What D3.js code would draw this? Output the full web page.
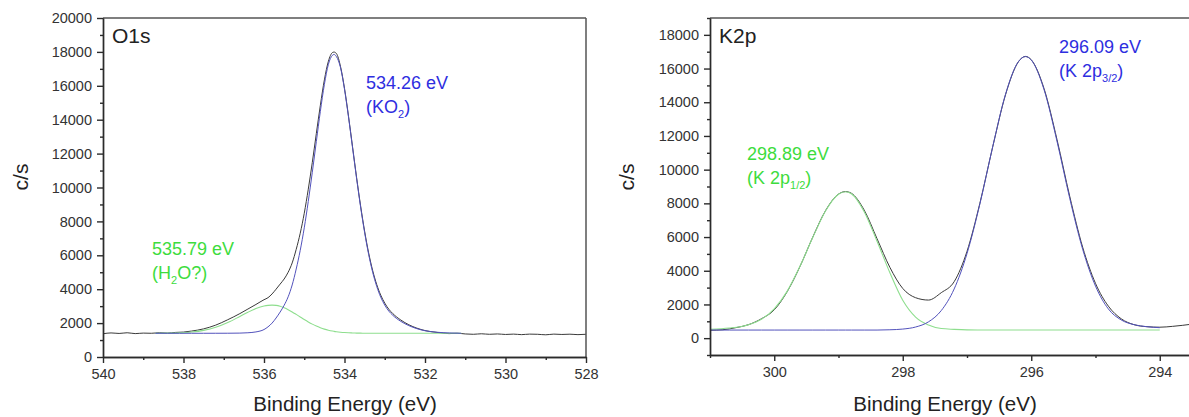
<!DOCTYPE html>
<html><head><meta charset="utf-8">
<script src="https://cdn.jsdelivr.net/npm/d3@7"></script>
<style>body{margin:0;background:#fff}svg{display:block}text{font-family:"Liberation Sans",Arial,sans-serif}</style>
</head><body><div id="chart"></div>
<script>
// ---------- O1s panel data ----------
const o1sRawEnergy = [540.0,539.8,539.6,539.4,539.2,539.0,538.8,538.6,538.4,538.2,538.0,537.8,537.5,537.2,536.9,536.6,536.4,536.2,536.0,535.9,535.8,535.7,535.6,535.5,535.4,535.3,535.2,535.1,535.0,534.9,534.8,534.7,534.6,534.5,534.4,534.3,534.26,534.2,534.1,534.0,533.9,533.8,533.7,533.6,533.5,533.4,533.3,533.2,533.1,533.0,532.9,532.8,532.6,532.4,532.2,532.0,531.8,531.6,531.4,531.2,531.0,530.8,530.6,530.4,530.2,530.0,529.8,529.6,529.4,529.2,529.0,528.8,528.6,528.4,528.2,528.0];
const o1sRaw = [1370,1420,1390,1430,1380,1410,1400,1430,1410,1450,1470,1530,1660,1880,2200,2560,2830,3100,3380,3500,3720,4000,4300,4600,5000,5550,6350,7300,8480,9900,11480,13180,14850,16350,17450,17960,17990,17900,17150,15850,14200,12400,10600,8920,7420,6140,5100,4280,3650,3180,2820,2560,2180,1900,1700,1560,1480,1420,1380,1400,1360,1340,1370,1340,1360,1330,1350,1320,1350,1340,1310,1350,1330,1345,1320,1340];
const o1sFitEnergy = [538.7,538.4,538.1,537.8,537.5,537.2,536.9,536.6,536.4,536.2,536.0,535.9,535.8,535.7,535.6,535.5,535.4,535.3,535.2,535.1,535.0,534.9,534.8,534.7,534.6,534.5,534.4,534.3,534.26,534.2,534.1,534.0,533.9,533.8,533.7,533.6,533.5,533.4,533.3,533.2,533.1,533.0,532.9,532.8,532.6,532.4,532.2,532.0,531.7,531.4,531.1];
const o1sKO2 = [1400,1400,1400,1400,1400,1401,1403,1410,1430,1480,1620,1780,2000,2300,2650,3050,3550,4250,5190,6290,7620,9180,10900,12710,14490,16080,17270,17800,17850,17720,17080,15790,14150,12340,10540,8850,7340,6050,5000,4170,3530,3060,2710,2460,2100,1850,1670,1550,1460,1420,1400];
const o1sH2O = [1402,1408,1426,1471,1569,1751,2034,2394,2641,2856,3004,3044,3060,3045,2993,2907,2794,2660,2513,2361,2211,2069,1939,1824,1727,1646,1581,1530,1513,1491,1463,1442,1428,1418,1411,1407,1404,1402,1401,1400,1400,1400,1400,1400,1400,1400,1400,1400,1400,1400,1400];
const o1sXMajor = [540,538,536,534,532,530,528];
const o1sXMinor = [539,537,535,533,531,529];
const o1sYMajor = [0,2000,4000,6000,8000,10000,12000,14000,16000,18000,20000];
const o1sYMinor = [1000,3000,5000,7000,9000,11000,13000,15000,17000,19000];

// ---------- K2p panel data ----------
const k2pRawEnergy = [301.0,300.8,300.6,300.4,300.2,300.0,299.8,299.6,299.4,299.2,299.0,298.89,298.8,298.6,298.4,298.2,298.0,297.8,297.6,297.4,297.2,297.0,296.8,296.6,296.4,296.2,296.09,296.0,295.8,295.6,295.4,295.2,295.0,294.8,294.6,294.4,294.2,294.0,293.8,293.5];
const k2pRaw = [470,500,620,800,1150,1680,2750,4250,6000,7580,8550,8700,8600,7600,5900,4200,2950,2400,2260,2700,3350,5150,8000,11350,14450,16400,16720,16520,14800,11800,8400,5400,3250,1900,1150,800,680,650,700,830];
const k2pFitEnergy = [301.0,300.7,300.4,300.2,300.0,299.8,299.6,299.4,299.2,299.0,298.89,298.8,298.6,298.4,298.2,298.0,297.8,297.6,297.4,297.2,297.0,296.8,296.6,296.4,296.2,296.09,296.0,295.8,295.6,295.4,295.2,295.0,294.8,294.6,294.4,294.2,294.0];
const k2p32 = [480,480,480,480,480,480,480,480,480,480,480,480,480,480,497,539,660,966,1639,2919,5020,7954,11359,14480,16411,16710,16509,14740,11698,8282,5279,3090,1735,1080,800,680,620];
const k2p12 = [530,600,800,1120,1740,2776,4261,5983,7562,8539,8690,8568,7508,5747,3884,2250,1250,780,570,522,491,483,480,480,480,480,480,480,480,480,480,480,480,480,480,480,480];
const k2pXMajor = [300,298,296,294];
const k2pXMinor = [301,299,297,295,293];
const k2pYMajor = [0,2000,4000,6000,8000,10000,12000,14000,16000,18000];
const k2pYMinor = [-1000,1000,3000,5000,7000,9000,11000,13000,15000,17000,19000];

const svg = d3.select("#chart").append("svg").attr("width",1189).attr("height",417);
const AX = "#2b2b2b", RAW = "#3a3a3a", BLUE_L = "#5252bc", GREEN_L = "#8ede8e";
const BLUE_T = "#2e2ee0", GREEN_T = "#3ddc3d";

function panel(o){
  const x = d3.scaleLinear().domain(o.xd).range([o.left,o.right]);
  const y = d3.scaleLinear().domain(o.yd).range([o.bottom,o.top]);
  const g = svg.append("g");
  const cid = "clip"+o.id;
  svg.append("clipPath").attr("id",cid).append("rect")
    .attr("x",o.left).attr("y",o.top).attr("width",o.right-o.left).attr("height",o.bottom-o.top);
  const line = (xs)=>d3.line().x((d,i)=>x(xs[i])).y(d=>y(d)).curve(d3.curveMonotoneX);
  const dg = g.append("g").attr("clip-path",`url(#${cid})`);
  dg.append("path").attr("d",line(o.rawE)(o.raw)).attr("fill","none").attr("stroke",RAW).attr("stroke-width",1);
  dg.append("path").attr("d",line(o.fitE)(o.green)).attr("fill","none").attr("stroke",GREEN_L).attr("stroke-width",1.1);
  dg.append("path").attr("d",line(o.fitE)(o.blue)).attr("fill","none").attr("stroke",BLUE_L).attr("stroke-width",1);

  g.append("line").attr("x1",o.left).attr("x2",o.right).attr("y1",o.top).attr("y2",o.top).attr("stroke","#555").attr("stroke-width",1.5);
  g.append("line").attr("x1",o.right).attr("x2",o.right).attr("y1",o.top).attr("y2",o.bottom).attr("stroke","#555").attr("stroke-width",1.5);

  const styleAxis = sel => { sel.selectAll("path,line").attr("stroke",AX).attr("stroke-width",1.4);
    sel.selectAll("text").attr("fill","#333").style("font-size","14.5px").style("font-family",'"Liberation Sans",Arial,sans-serif'); };
  g.append("g").attr("transform",`translate(0,${o.bottom})`)
    .call(d3.axisBottom(x).tickValues(o.xMinor).tickSize(3).tickSizeOuter(0).tickFormat("")).call(styleAxis);
  g.append("g").attr("transform",`translate(0,${o.bottom})`)
    .call(d3.axisBottom(x).tickValues(o.xMajor).tickSize(6).tickSizeOuter(0).tickPadding(6).tickFormat(d3.format("d"))).call(styleAxis);
  g.append("g").attr("transform",`translate(${o.left},0)`)
    .call(d3.axisLeft(y).tickValues(o.yMinor).tickSize(3).tickSizeOuter(0).tickFormat("")).call(styleAxis);
  g.append("g").attr("transform",`translate(${o.left},0)`)
    .call(d3.axisLeft(y).tickValues(o.yMajor).tickSize(6).tickSizeOuter(0).tickPadding(5).tickFormat(d3.format("d"))).call(styleAxis);

  g.append("text").attr("x",o.xTitleX).attr("y",411).attr("text-anchor","middle")
    .style("font-size","20.5px").attr("fill","#222").text("Binding Energy (eV)");
  g.append("text").attr("transform",`translate(${o.yTitleX},${o.yTitleY}) rotate(-90)`).attr("text-anchor","middle")
    .style("font-size","21px").attr("fill","#222").text("c/s");
  g.append("text").attr("x",o.left+9).attr("y",43).style("font-size","21px").attr("fill","#222").text(o.title);

  o.notes.forEach(n=>{
    g.append("text").attr("x",n.x).attr("y",n.y).style("font-size","18px").attr("fill",n.c).text(n.l1);
    const t = g.append("text").attr("x",n.x).attr("y",n.y+24).style("font-size","18px").attr("fill",n.c);
    t.append("tspan").text(n.pre);
    t.append("tspan").attr("dy",5).style("font-size","11px").text(n.sub);
    t.append("tspan").attr("dy",-5).text(n.post);
  });
}

panel({id:"a", xd:[540,528], yd:[0,20000], left:103, right:586, top:18, bottom:357,
  rawE:o1sRawEnergy, raw:o1sRaw, fitE:o1sFitEnergy, blue:o1sKO2, green:o1sH2O,
  xMajor:o1sXMajor, xMinor:o1sXMinor, yMajor:o1sYMajor, yMinor:o1sYMinor,
  xTitleX:345, yTitleX:28, yTitleY:177, title:"O1s",
  notes:[{x:366,y:89,c:BLUE_T,l1:"534.26 eV",pre:"(KO",sub:"2",post:")"},
         {x:152,y:255,c:GREEN_T,l1:"535.79 eV",pre:"(H",sub:"2",post:"O?)"}]});

panel({id:"b", xd:[301,293], yd:[-1000,19000], left:710, right:1224, top:18, bottom:355,
  rawE:k2pRawEnergy, raw:k2pRaw, fitE:k2pFitEnergy, blue:k2p32, green:k2p12,
  xMajor:k2pXMajor, xMinor:k2pXMinor, yMajor:k2pYMajor, yMinor:k2pYMinor,
  xTitleX:945, yTitleX:634, yTitleY:177, title:"K2p",
  notes:[{x:1059,y:53,c:BLUE_T,l1:"296.09 eV",pre:"(K 2p",sub:"3/2",post:")"},
         {x:747,y:160,c:GREEN_T,l1:"298.89 eV",pre:"(K 2p",sub:"1/2",post:")"}]});
</script></body></html>
